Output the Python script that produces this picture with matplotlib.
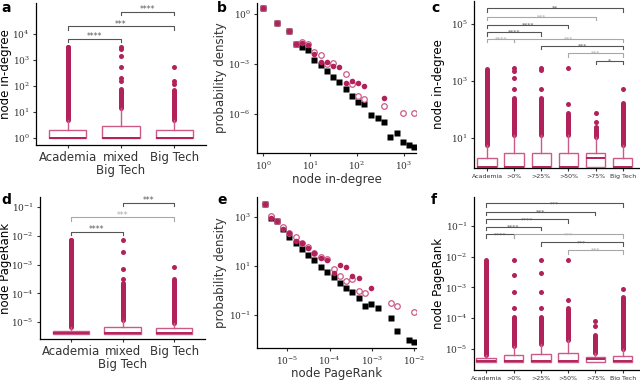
import numpy as np
import matplotlib
matplotlib.use("Agg")
import matplotlib.pyplot as plt
from matplotlib.ticker import NullLocator

# ---- data (all values as log10) ----
# panel b: in-degree distributions
b_sq_x = [0, 0.29, 0.55, 0.70, 0.84, 0.96, 1.09, 1.23, 1.36, 1.50, 1.62, 1.76, 1.89, 2.03, 2.16, 2.31, 2.45, 2.58, 2.70, 2.85, 2.98, 3.11, 3.22]
b_sq_y = [0.34, -0.52, -1.0, -1.8, -1.96, -2.16, -2.76, -3.06, -3.40, -3.76, -4.08, -4.5, -4.9, -5.26, -5.40, -6.06, -6.24, -6.46, -7.36, -7.12, -7.70, -7.86, -7.96]
b_fill_x = [0, 0.29, 0.55, 0.70, 0.84, 0.96, 1.09, 1.23, 1.36, 1.50, 1.62, 1.76, 1.89, 2.03, 2.16, 2.58]
b_fill_y = [0.34, -0.52, -1.0, -1.8, -1.76, -1.86, -2.42, -2.86, -2.86, -3.12, -3.2, -4.16, -4.02, -4.16, -4.30, -5.02]
b_open_x = [0, 0.29, 0.55, 0.70, 0.84, 0.96, 1.09, 1.23, 1.36, 1.50, 1.76, 1.89, 2.03, 2.16, 2.58, 2.98, 3.22]
b_open_y = [0.34, -0.52, -1.0, -1.8, -1.70, -1.80, -2.26, -2.46, -3.0, -2.92, -3.6, -4.22, -4.92, -5.1, -5.52, -5.92, -5.92]

# panel e: PageRank distributions
e_sq_x = [-5.53, -5.38, -5.24, -5.09, -4.95, -4.80, -4.65, -4.51, -4.36, -4.20, -4.05, -3.90, -3.75, -3.61, -3.46, -3.31, -3.16, -3.01, -2.85, -2.56, -2.41, -2.12, -2.0]
e_sq_y = [3.53, 2.95, 2.84, 2.50, 2.20, 1.95, 1.69, 1.45, 1.24, 0.97, 0.77, 0.54, 0.32, 0.11, -0.07, -0.32, -0.63, -0.55, -0.73, -1.11, -1.64, -2.02, -2.10]
e_fill_x = [-5.53, -5.38, -5.24, -5.09, -4.95, -4.80, -4.65, -4.51, -4.36, -4.20, -4.05, -3.90, -3.75, -3.61, -3.46, -3.31, -3.01]
e_fill_y = [3.53, 2.95, 2.84, 2.50, 2.36, 2.03, 1.95, 1.75, 1.52, 1.31, 1.24, 0.70, 1.04, 0.95, 0.59, 0.50, 0.09]
e_open_x = [-5.53, -5.38, -5.24, -5.09, -4.95, -4.80, -4.65, -4.51, -4.36, -4.20, -4.05, -3.90, -3.75, -3.61, -3.46, -3.31, -3.16, -2.56, -2.41, -2.0]
e_open_y = [3.53, 3.04, 2.84, 2.60, 2.36, 2.20, 1.95, 1.78, 1.52, 1.38, 1.30, 0.89, 0.59, 0.40, 0.46, -0.01, -0.12, -0.50, -0.62, -0.89]

# box panels: q1, median, q3, whisker top, dense flier top, isolated fliers
cats3 = ["Academia", "mixed\nBig Tech", "Big Tech"]
cats6 = ["Academia", ">0%", ">25%", ">50%", ">75%", "Big Tech"]

a_q1 = [0, 0, 0]
a_med = [0, 0, 0]
a_q3 = [0.30, 0.46, 0.30]
a_whi = [0.70, 1.15, 0.70]
a_dense = [3.50, 1.90, 1.85]
a_iso = [[3.52], [2.2, 2.3, 2.74, 3.18, 3.44, 3.5], [2.1, 2.2, 2.74]]

c_q1 = [0, 0, 0, 0, 0, 0]
c_med = [0, 0, 0, 0, 0.29, 0]
c_q3 = [0.29, 0.49, 0.49, 0.49, 0.47, 0.29]
c_whi = [0.76, 1.10, 1.10, 1.10, 1.05, 0.76]
c_dense = [3.43, 2.39, 2.39, 1.87, 1.30, 2.22]
c_iso = [[], [2.7, 3.12, 3.36, 3.47], [2.7, 3.4, 3.47], [2.2, 3.47], [1.39, 1.57, 1.86], [2.7]]

d_q1 = [-5.41, -5.41, -5.41]
d_med = [-5.38, -5.38, -5.38]
d_q3 = [-5.29, -5.18, -5.21]
d_whi = [-5.16, -4.92, -5.04]
d_dense = [-2.15, -3.65, -3.48]
d_iso = [[-2.13], [-3.48, -3.15, -2.55, -2.13], [-3.07]]

f_q1 = [-5.44, -5.44, -5.44, -5.44, -5.44, -5.44]
f_med = [-5.41, -5.41, -5.41, -5.41, -5.34, -5.41]
f_q3 = [-5.30, -5.19, -5.17, -5.14, -5.25, -5.23]
f_whi = [-5.19, -4.90, -4.85, -4.71, -5.13, -4.99]
f_dense = [-2.10, -3.95, -3.95, -3.68, -4.55, -3.30]
f_iso = [[], [-3.68, -3.14, -2.60, -2.10], [-3.68, -3.14, -2.52, -2.10], [-3.41, -2.10], [-4.26, -4.08], [-3.06]]

# significance brackets: (left, right, log10 height, label, dark?)
a_sig = [(1, 2, 3.81, "****", True), (1, 3, 4.30, "***", True), (2, 3, 4.85, "****", True)]
c_sig = [(1, 6, 5.55, "**", True), (1, 5, 5.24, "***", False), (1, 4, 4.97, "****", True),
         (1, 3, 4.70, "****", True), (1, 2, 4.47, "****", False), (2, 6, 4.47, "***", False),
         (3, 6, 4.23, "***", True), (4, 6, 3.97, "***", False), (5, 6, 3.71, "*", True)]
d_sig = [(1, 2, -1.86, "****", True), (1, 3, -1.36, "***", False), (2, 3, -0.85, "***", True)]
f_sig = [(1, 6, -0.26, "***", True), (1, 5, -0.53, "***", True), (1, 4, -0.78, "****", True),
         (1, 3, -1.02, "****", True), (1, 2, -1.27, "****", True), (2, 6, -1.27, "***", False),
         (3, 6, -1.53, "***", True), (4, 6, -1.78, "***", False)]

CRIMSON = "#B2225A"
PINK = "#CC5A87"
TICK = 6.5

plt.rcParams.update({
    "font.family": "DejaVu Sans",
    "mathtext.fontset": "dejavuserif",
    "axes.linewidth": 0.9,
    "xtick.major.size": 2.5,
    "ytick.major.size": 2.5,
    "xtick.major.pad": 2,
    "ytick.major.pad": 2,
    "xtick.color": "#333333",
    "ytick.color": "#333333",
})

fig = plt.figure(figsize=(6.4, 3.8), dpi=100)


def box(l, r, t, b):
    return [l / 640, 1 - b / 380, (r - l) / 640, (b - t) / 380]


def style(ax):
    for s in ["top", "right"]:
        ax.spines[s].set_visible(False)
    ax.yaxis.set_minor_locator(NullLocator())
    ax.xaxis.set_minor_locator(NullLocator())


def logticks(ax, axis, exps, size=TICK):
    vals = [10.0 ** e for e in exps]
    labels = [f"$10^{{{e}}}$" for e in exps]
    if axis == "y":
        ax.set_yticks(vals, labels, fontsize=size)
    else:
        ax.set_xticks(vals, labels, fontsize=size)


def place_labels(ax, rect, ylab_x=None, xlab_y=None):
    # label anchors in figure pixels: ylabel right edge, xlabel top edge
    l, r, t, b = rect
    if ylab_x is not None:
        ax.yaxis.set_label_coords((ylab_x - l) / (r - l), 0.5)
    if xlab_y is not None:
        ax.xaxis.set_label_coords(0.5, (b - xlab_y) / (b - t))


def boxpanel(ax, cats, q1, med, q3, whi, dense, iso, sig, width, sigsize):
    stats = []
    for i in range(len(cats)):
        stats.append(dict(med=10 ** med[i], q1=10 ** q1[i], q3=10 ** q3[i],
                          whislo=10 ** q1[i], whishi=10 ** whi[i], fliers=[]))
    pos = np.arange(1, len(cats) + 1)
    # dense column of outliers, then isolated ones
    for i, p in enumerate(pos):
        ax.plot([p, p], [10 ** whi[i], 10 ** dense[i]], color=CRIMSON, lw=3.6,
                solid_capstyle="round", zorder=2)
        if iso[i]:
            ax.plot([p] * len(iso[i]), [10 ** v for v in iso[i]], "o", color=CRIMSON,
                    ms=3.6, mec="none", zorder=2)
    ax.bxp(stats, positions=pos, widths=width, showcaps=False, showfliers=False,
           patch_artist=True,
           boxprops=dict(facecolor="white", edgecolor=PINK, lw=1.0),
           whiskerprops=dict(color=PINK, lw=1.0),
           medianprops=dict(color=CRIMSON, lw=1.4), zorder=3)
    ax.set_yscale("log")
    for x1, x2, h, txt, dark in sig:
        col = "#555555" if dark else "#a8a8a8"
        y = 10 ** h
        yd = 10 ** (h - 0.12)
        ax.plot([x1, x1, x2, x2], [yd, y, y, yd], color=col, lw=0.8)
        ax.text((x1 + x2) / 2, 10 ** (h - 0.09), txt, ha="center", va="bottom",
                fontsize=sigsize, color=col)


def scatter3(ax, sx, sy, fx, fy, ox, oy):
    ax.plot([10 ** v for v in sx], [10 ** v for v in sy], "s", color="black", ms=3.8, mec="none")
    ax.plot([10 ** v for v in ox], [10 ** v for v in oy], "o", mfc="white", mec=PINK, mew=0.9, ms=4.0)
    ax.plot([10 ** v for v in fx], [10 ** v for v in fy], "o", color=CRIMSON, ms=4.0, mec="none")
    ax.set_xscale("log")
    ax.set_yscale("log")


# ---- a ----
ra = (36, 206, 3, 145)
ax = fig.add_axes(box(*ra))
boxpanel(ax, cats3, a_q1, a_med, a_q3, a_whi, a_dense, a_iso, a_sig, 0.7, 5.5)
ax.set_ylim(10 ** -0.26, 10 ** 5.2)
ax.set_xlim(0.4, 3.6)
style(ax)
logticks(ax, "y", [0, 1, 2, 3, 4])
ax.set_xticks([1, 2, 3], cats3, fontsize=8.5, linespacing=1.0)
ax.set_ylabel("node in-degree", fontsize=8.5)
place_labels(ax, ra, ylab_x=12)

# ---- b ----
rb = (257, 416, 3, 153)
ax = fig.add_axes(box(*rb))
scatter3(ax, b_sq_x, b_sq_y, b_fill_x, b_fill_y, b_open_x, b_open_y)
ax.set_xlim(10 ** -0.13, 10 ** 3.26)
ax.set_ylim(10 ** -8.34, 10 ** 0.66)
style(ax)
logticks(ax, "x", [0, 1, 2, 3])
logticks(ax, "y", [0, -3, -6])
ax.set_xlabel("node in-degree", fontsize=8.5, color="#333333")
ax.set_ylabel("probability density", fontsize=8.5, color="#333333")
place_labels(ax, rb, ylab_x=227, xlab_y=173)

# ---- c ----
rc = (474, 639, 1, 168)
ax = fig.add_axes(box(*rc))
boxpanel(ax, cats6, c_q1, c_med, c_q3, c_whi, c_dense, c_iso, c_sig, 0.72, 4.5)
ax.set_ylim(10 ** -0.05, 10 ** 5.8)
ax.set_xlim(0.52, 6.6)
style(ax)
logticks(ax, "y", [1, 3, 5])
ax.set_xticks(range(1, 7), cats6, fontsize=4.5)
ax.set_ylabel("node in-degree", fontsize=8.5)
place_labels(ax, rc, ylab_x=445)

# ---- d ----
rd = (40, 205, 197, 339)
ax = fig.add_axes(box(*rd))
boxpanel(ax, cats3, d_q1, d_med, d_q3, d_whi, d_dense, d_iso, d_sig, 0.7, 5.5)
ax.set_ylim(10 ** -5.58, 10 ** -0.65)
ax.set_xlim(0.4, 3.6)
style(ax)
logticks(ax, "y", [-1, -2, -3, -4, -5])
ax.set_xticks([1, 2, 3], cats3, fontsize=8.5, linespacing=1.0)
ax.set_ylabel("node PageRank", fontsize=8.5)
place_labels(ax, rd, ylab_x=12)

# ---- e ----
re_ = (257, 416, 197, 348)
ax = fig.add_axes(box(*re_))
scatter3(ax, e_sq_x, e_sq_y, e_fill_x, e_fill_y, e_open_x, e_open_y)
ax.set_xlim(10 ** -5.71, 10 ** -1.96)
ax.set_ylim(10 ** -2.35, 10 ** 3.82)
style(ax)
logticks(ax, "x", [-5, -4, -3, -2])
logticks(ax, "y", [3, 1, -1])
ax.set_xlabel("node PageRank", fontsize=8.5, color="#333333")
ax.set_ylabel("probability density", fontsize=8.5, color="#333333")
place_labels(ax, re_, ylab_x=227, xlab_y=367)

# ---- f ----
rf = (474, 639, 197, 370)
ax = fig.add_axes(box(*rf))
boxpanel(ax, cats6, f_q1, f_med, f_q3, f_whi, f_dense, f_iso, f_sig, 0.72, 4.5)
ax.set_ylim(10 ** -5.69, 10 ** -0.05)
ax.set_xlim(0.55, 6.6)
style(ax)
logticks(ax, "y", [-1, -2, -3, -4, -5])
ax.set_xticks(range(1, 7), cats6, fontsize=4.5)
ax.set_ylabel("node PageRank", fontsize=8.5)
place_labels(ax, rf, ylab_x=445)

# panel letters
for lab, x, y in [("a", 1, 1), ("b", 217, 1), ("c", 431, 1), ("d", 1, 193), ("e", 217, 193), ("f", 431, 193)]:
    fig.text(x / 640, 1 - y / 380, lab, fontsize=10, fontweight="bold", va="top", ha="left")

fig.savefig("out.png", dpi=100)
